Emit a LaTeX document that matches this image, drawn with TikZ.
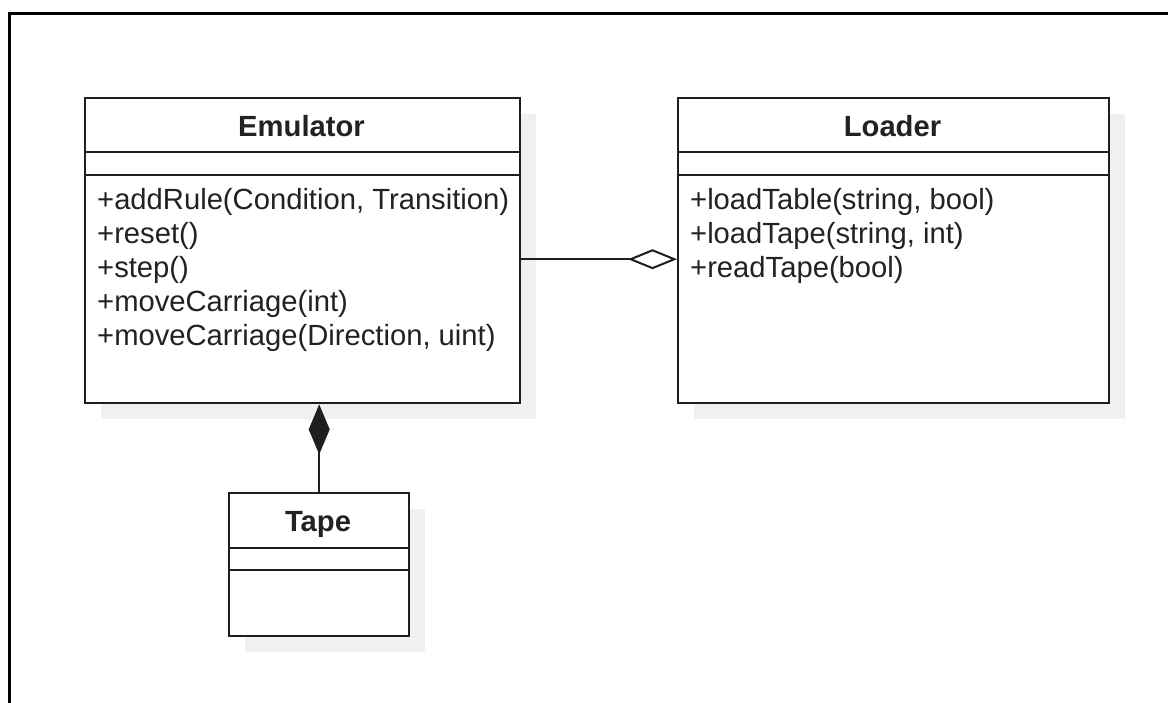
\documentclass[tikz,border=0pt]{standalone}
\usepackage{fontspec}
\setmainfont{Liberation Sans}
\usetikzlibrary{arrows.meta,shadows}
\definecolor{shadowc}{HTML}{F0F0F0}
\definecolor{linec}{HTML}{1E1E1E}
\definecolor{textc}{HTML}{222222}
\tikzset{
  cls/.style={draw=linec, line width=2.4pt, fill=white, rectangle, inner sep=0pt, anchor=north west,
    general shadow={fill=shadowc, shadow xshift=16pt, shadow yshift=-16pt}},
  sep/.style={draw=linec, line width=2.2pt},
  title/.style={font=\fontsize{29.2}{34}\selectfont\bfseries, text=textc, anchor=base, inner sep=0pt},
  meth/.style={font=\fontsize{29.2}{34}\selectfont, text=textc, anchor=base west, inner sep=0pt},
  frame/.style={draw=black, line width=3pt},
  aggr/.style={draw=linec, line width=2pt, -{Diamond[length=49pt, width=20pt, open, fill=white, line width=2pt]}},
  comp/.style={draw=linec, line width=2pt, -{Diamond[length=50pt, width=21pt, fill=linec, line width=1pt]}}
}
\begin{document}
\begin{tikzpicture}[x=1pt, y=-1pt]
\useasboundingbox (0,0) rectangle (1168,702);
\fill[white] (0,0) rectangle (1168,702);
\draw[frame] (9,710) -- (9,13) -- (1175,13);

% Emulator
\node[cls, minimum width=435pt, minimum height=305pt] (emu) at (84,97) {};
\draw[sep] ([yshift=-55pt]emu.north west) -- ([yshift=-55pt]emu.north east);
\draw[sep] ([yshift=-78pt]emu.north west) -- ([yshift=-78pt]emu.north east);
\node[title] (emuT) at (301.5,136) {Emulator};
\node[meth] (e1) at (97,209) {+addRule(Condition, Transition)};
\node[meth] (e2) at (97,243) {+reset()};
\node[meth] (e3) at (97,277) {+step()};
\node[meth] (e4) at (97,311) {+moveCarriage(int)};
\node[meth] (e5) at (97,345) {+moveCarriage(Direction, uint)};

% Loader
\node[cls, minimum width=431pt, minimum height=305pt] (load) at (677,97) {};
\draw[sep] ([yshift=-55pt]load.north west) -- ([yshift=-55pt]load.north east);
\draw[sep] ([yshift=-78pt]load.north west) -- ([yshift=-78pt]load.north east);
\node[title] (loadT) at (892.5,136) {Loader};
\node[meth] (l1) at (690,209) {+loadTable(string, bool)};
\node[meth] (l2) at (690,243) {+loadTape(string, int)};
\node[meth] (l3) at (690,277) {+readTape(bool)};

% Tape
\node[cls, minimum width=180pt, minimum height=143pt] (tape) at (228,492) {};
\draw[sep] ([yshift=-56pt]tape.north west) -- ([yshift=-56pt]tape.north east);
\draw[sep] ([yshift=-78pt]tape.north west) -- ([yshift=-78pt]tape.north east);
\node[title] (tapeT) at (318,531) {Tape};

% connectors
\draw[aggr] ([yshift=-8.5pt]emu.east) -- ([yshift=-8.5pt]load.west);
\draw[comp] (tape.north) -- (tape.north |- emu.south);
\end{tikzpicture}
\end{document}
